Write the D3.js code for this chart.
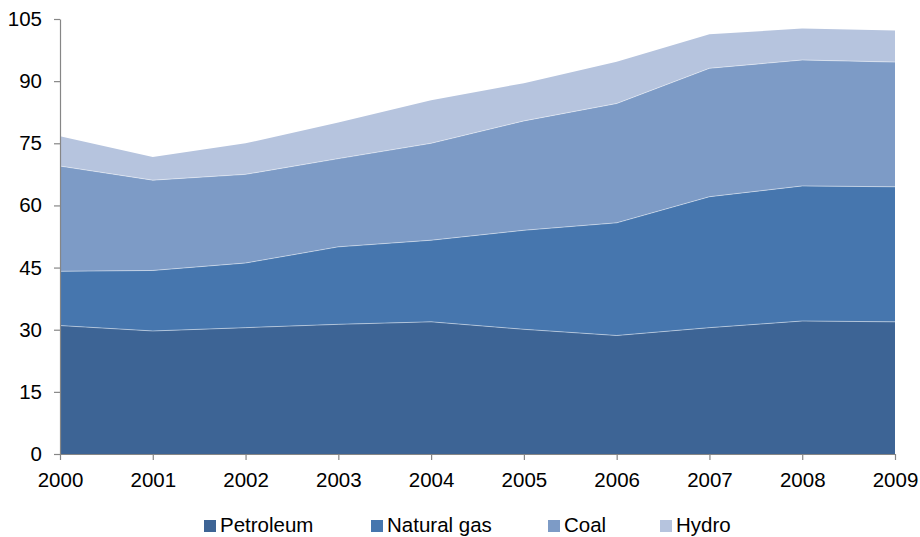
<!DOCTYPE html>
<html>
<head>
<meta charset="utf-8">
<script src="https://cdn.jsdelivr.net/npm/d3@7"></script>
<style>
  html, body { margin: 0; padding: 0; background: #fff; }
  svg { display: block; font-family: "Liberation Sans", Arial, sans-serif; }
</style>
</head>
<body>
<svg id="chart" width="920" height="537"></svg>
<script>
// Yearly generation by source (stacked)
const years = [2000, 2001, 2002, 2003, 2004, 2005, 2006, 2007, 2008, 2009];
const petroleum  = [31.0, 29.7, 30.5, 31.3, 31.9, 30.1, 28.6, 30.5, 32.1, 31.9];
const naturalGas = [13.1, 14.6, 15.6, 18.7, 19.7, 23.9, 27.2, 31.6, 32.6, 32.6];
const coal       = [25.4, 21.8, 21.4, 21.3, 23.4, 26.4, 28.8, 31.0, 30.4, 30.1];
const hydro      = [ 7.2,  5.6,  7.5,  8.7, 10.4,  9.1, 10.1,  8.2,  7.6,  7.6];
const seriesNames = ["Petroleum", "Natural gas", "Coal", "Hydro"];
const seriesColors = ["#3d6495", "#4676ae", "#7d9bc6", "#b6c4de"];
const yTicks = [0, 15, 30, 45, 60, 75, 90, 105];

const rows = years.map((yr, i) => ({
  year: yr,
  "Petroleum": petroleum[i],
  "Natural gas": naturalGas[i],
  "Coal": coal[i],
  "Hydro": hydro[i]
}));

const svg = d3.select("#chart");
const plotLeft = 60, plotRight = 895, plotTop = 19, plotBottom = 454;
const fontSize = "20.5px";

const x = d3.scaleLinear().domain([years[0], years[years.length - 1]]).range([plotLeft, plotRight]);
const y = d3.scaleLinear().domain([0, 105]).range([plotBottom, plotTop]);
const color = d3.scaleOrdinal().domain(seriesNames).range(seriesColors);

const stacked = d3.stack().keys(seriesNames)(rows);

const area = d3.area()
  .x(d => x(d.data.year))
  .y0(d => y(d[0]))
  .y1(d => y(d[1]));

const topLine = d3.line()
  .x(d => x(d.data.year))
  .y(d => y(d[1]));

svg.append("g").selectAll("path")
  .data(stacked)
  .join("path")
  .attr("d", area)
  .attr("fill", d => color(d.key));

// thin light seams along each layer's upper edge
svg.append("g").selectAll("path")
  .data(stacked.slice(0, 3))
  .join("path")
  .attr("d", topLine)
  .attr("fill", "none")
  .attr("stroke", "rgba(255,255,255,0.45)")
  .attr("stroke-width", 1);

// Y axis
const yAxis = svg.append("g")
  .attr("transform", `translate(${plotLeft},0)`)
  .call(d3.axisLeft(y).tickValues(yTicks).tickSize(6).tickSizeOuter(0).tickPadding(12));
yAxis.select(".domain").attr("stroke", "#868686").attr("stroke-width", 1.2);
yAxis.selectAll(".tick line").attr("stroke", "#868686").attr("stroke-width", 1.2);
yAxis.selectAll(".tick text")
  .attr("font-size", fontSize)
  .attr("font-family", "Liberation Sans, Arial, sans-serif")
  .attr("fill", "#000");

// X axis
const xAxis = svg.append("g")
  .attr("transform", `translate(0,${plotBottom})`)
  .call(d3.axisBottom(x).tickValues(years).tickFormat(d3.format("d")).tickSize(6).tickSizeOuter(0).tickPadding(12));
xAxis.select(".domain").attr("stroke", "#868686").attr("stroke-width", 1.2);
xAxis.selectAll(".tick line").attr("stroke", "#868686").attr("stroke-width", 1.2);
xAxis.selectAll(".tick text")
  .attr("font-size", fontSize)
  .attr("font-family", "Liberation Sans, Arial, sans-serif")
  .attr("fill", "#000");

// Legend along the bottom edge
const legendX = [204, 371, 548, 660];
const legend = svg.append("g").selectAll("g")
  .data(seriesNames)
  .join("g")
  .attr("transform", (d, i) => `translate(${legendX[i]},0)`);
legend.append("rect")
  .attr("x", 0).attr("y", 520)
  .attr("width", 12).attr("height", 12)
  .attr("fill", d => color(d));
legend.append("text")
  .attr("x", 16).attr("y", 532)
  .attr("font-size", fontSize)
  .attr("fill", "#000")
  .text(d => d);
</script>
</body>
</html>
